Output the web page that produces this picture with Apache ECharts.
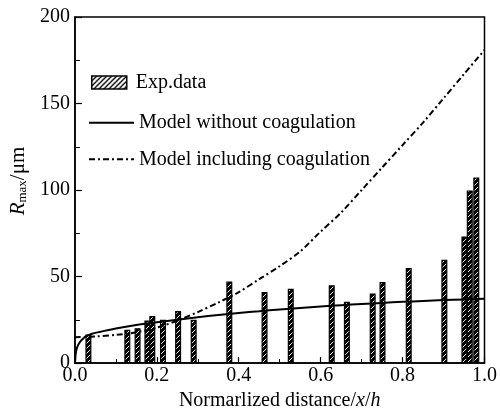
<!DOCTYPE html>
<html>
<head>
<meta charset="utf-8">
<script src="https://cdn.jsdelivr.net/npm/echarts@6/dist/echarts.min.js"></script>
<style>
  html, body { margin: 0; padding: 0; background: #fff; }
  #chart { width: 500px; height: 416px; }
</style>
</head>
<body>
<div id="chart"></div>
<script>
// measured bars (Exp.data)
const expX = [0.033, 0.128, 0.153, 0.177, 0.189, 0.215, 0.252, 0.290, 0.377, 0.463, 0.527, 0.627, 0.664, 0.727, 0.751, 0.815, 0.902, 0.951, 0.964, 0.980];
const expY = [16.5, 19.2, 20.2, 24.6, 27.2, 25, 30.1, 25, 47.2, 41.1, 43, 45, 35.4, 40.2, 46.9, 55, 59.7, 73.1, 99.8, 107.3];

// model without coagulation (solid)
const noCoagX = [0, 0.003, 0.008, 0.015, 0.025, 0.04, 0.06, 0.1, 0.15, 0.2, 0.25, 0.3, 0.35, 0.4, 0.45, 0.5, 0.55, 0.6, 0.65, 0.7, 0.75, 0.8, 0.85, 0.9, 0.95, 1.0];
const noCoagY = [0, 7, 10.5, 13, 15.2, 16.8, 18, 20, 22, 23.6, 25.1, 26.5, 27.8, 29, 30, 31, 31.9, 32.7, 33.5, 34.2, 34.8, 35.4, 35.9, 36.4, 36.8, 37.2];

// model including coagulation (dash-dot)
const coagX = [0, 0.05, 0.1, 0.15, 0.2, 0.25, 0.3, 0.35, 0.4, 0.45, 0.5, 0.55, 0.6, 0.65, 0.7, 0.75, 0.8, 0.85, 0.9, 0.95, 1.0];
const coagY = [15, 15.4, 16.3, 17.8, 20.5, 24.5, 29.5, 35, 41, 48.5, 56, 64.5, 76, 87, 100, 113, 126, 139, 153, 167, 181];

const xTicks = ['0.0', '0.2', '0.4', '0.6', '0.8', '1.0'];

const font = 'Liberation Serif';

// hatch fills
function hatch(size, bg, fg, lw) {
  const c = document.createElement('canvas');
  c.width = size; c.height = size;
  const g = c.getContext('2d');
  g.fillStyle = bg;
  g.fillRect(0, 0, size, size);
  g.strokeStyle = fg;
  g.lineWidth = lw;
  g.beginPath();
  g.moveTo(-1, size + 1); g.lineTo(size + 1, -1);
  g.moveTo(-1, 1); g.lineTo(1, -1);
  g.moveTo(size - 1, size + 1); g.lineTo(size + 1, size - 1);
  g.stroke();
  return c;
}
const barFill = hatch(5, '#000', '#fff', 0.9);
const legendFill = hatch(5, '#fff', '#000', 1.4);

// legend line icons: no marker dot
const noDot = { color: 'rgba(0,0,0,0)', borderColor: 'rgba(0,0,0,0)', borderWidth: 0 };

const chart = echarts.init(document.getElementById('chart'));

chart.setOption({
  backgroundColor: '#fff',
  animation: false,
  textStyle: { fontFamily: font, color: '#000' },
  grid: {
    left: 72, right: 10, top: 17, bottom: 49,
    show: true, borderColor: '#000', borderWidth: 1.5
  },
  legend: [
    {
      data: [{
        name: 'Exp.data',
        icon: 'rect',
        itemStyle: { color: { image: legendFill, repeat: 'repeat' }, borderColor: '#000', borderWidth: 1.5 }
      }],
      orient: 'vertical', left: 91, top: 72.5, padding: 0,
      itemWidth: 35, itemHeight: 13,
      textStyle: { fontFamily: font, fontSize: 20, color: '#000', padding: [0, 0, 0, 4] }
    },
    {
      data: [
        { name: 'Model without coagulation', itemStyle: noDot },
        { name: 'Model including coagulation', itemStyle: noDot }
      ],
      orient: 'vertical', left: 88, top: 112.7, padding: 0,
      itemWidth: 45, itemHeight: 13, itemGap: 16.6,
      textStyle: { fontFamily: font, fontSize: 20, color: '#000' }
    }
  ],
  xAxis: {
    type: 'value', min: 0, max: 1, interval: 0.2,
    name: '{t|Normarlized distance/}{i|x}{t|/}{i|h}',
    nameLocation: 'middle', nameGap: 26,
    nameTextStyle: {
      rich: {
        t: { fontFamily: font, fontSize: 20, color: '#000' },
        i: { fontFamily: font, fontSize: 20, color: '#000', fontStyle: 'italic' }
      }
    },
    axisLine: { lineStyle: { color: '#000', width: 1.5 } },
    axisTick: { inside: true, length: 6, lineStyle: { color: '#000', width: 1.2 } },
    minorTick: { show: true, splitNumber: 2, length: 4, lineStyle: { color: '#000', width: 1 } },
    splitLine: { show: false },
    axisLabel: {
      margin: 3, fontFamily: font, fontSize: 20, color: '#000',
      formatter: (v) => xTicks[Math.round(v / 0.2)]
    }
  },
  yAxis: {
    type: 'value', min: 0, max: 200, interval: 50,
    name: '{r|R}{s|max}{t|/μm}',
    nameLocation: 'middle', nameGap: 34, nameRotate: 90,
    nameTextStyle: {
      padding: [0, 0, 0, 18],
      rich: {
        r: { fontFamily: font, fontSize: 21, color: '#000', fontStyle: 'italic' },
        s: { fontFamily: font, fontSize: 13, color: '#000', verticalAlign: 'bottom', padding: [8, 0, 0, 0] },
        t: { fontFamily: font, fontSize: 21, color: '#000' }
      }
    },
    axisLine: { show: true, lineStyle: { color: '#000', width: 1.5 } },
    axisTick: { inside: true, length: 7, lineStyle: { color: '#000', width: 1.2 } },
    minorTick: { show: true, splitNumber: 2, length: 5, lineStyle: { color: '#000', width: 1 } },
    splitLine: { show: false },
    axisLabel: { margin: 5, fontFamily: font, fontSize: 20, color: '#000' }
  },
  series: [
    {
      name: 'Exp.data',
      type: 'bar',
      barWidth: 6,
      data: expX.map((x, i) => [x, expY[i]]),
      itemStyle: { color: { image: barFill, repeat: 'repeat' }, borderColor: '#000', borderWidth: 1.2 },
      z: 2
    },
    {
      name: 'Model without coagulation',
      type: 'line',
      symbol: 'none',
      smooth: 0.3,
      data: noCoagX.map((x, i) => [x, noCoagY[i]]),
      lineStyle: { color: '#000', width: 2 },
      itemStyle: { color: '#000' },
      z: 3
    },
    {
      name: 'Model including coagulation',
      type: 'line',
      symbol: 'none',
      smooth: 0.3,
      data: coagX.map((x, i) => [x, coagY[i]]),
      lineStyle: { color: '#000', width: 2, type: [6, 3, 2, 3] },
      itemStyle: { color: '#000' },
      z: 3
    }
  ]
});
</script>
</body>
</html>
